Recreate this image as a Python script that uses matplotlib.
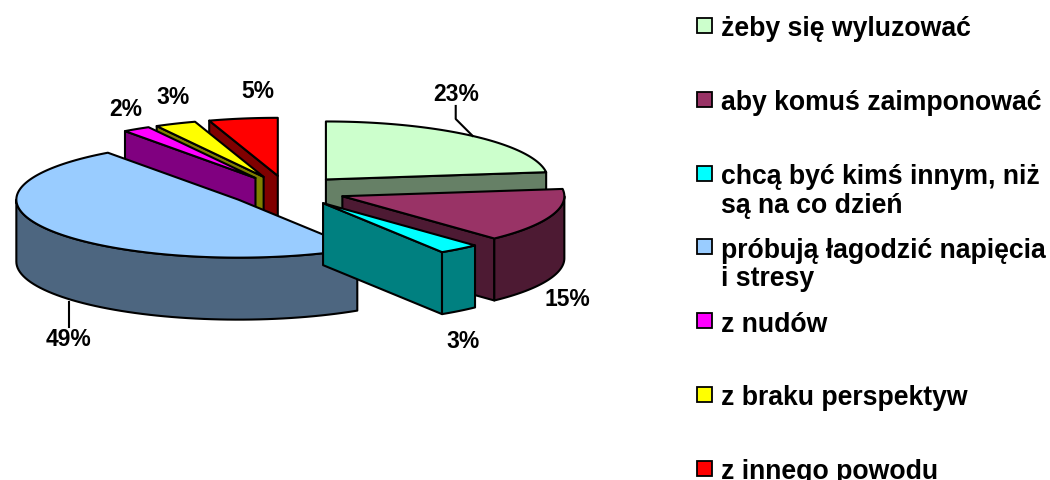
import numpy as np
import matplotlib.pyplot as plt
from matplotlib.patches import Polygon, Rectangle
from matplotlib.colors import to_rgb

# dane
labels = ['żeby się wyluzować', 'aby komuś zaimponować',
          'chcą być kimś innym, niż\nsą na co dzień',
          'próbują łagodzić napięcia\ni stresy',
          'z nudów', 'z braku perspektyw', 'z innego powodu']
values = [23, 15, 3, 49, 2, 3, 5]
colors = ['#CCFFCC', '#993366', '#00FFFF', '#99CCFF', '#FF00FF', '#FFFF00', '#FF0000']

# przesunięcia etykiet procentowych (px) i linie odniesienia
label_nudge = [(-17, -42), (16, 21), (4, 30), (14, 44), (-11, -21), (-2, -27), (15, -28)]
leader = [True, False, False, True, False, False, False]

plt.rcParams['font.family'] = ['Liberation Sans', 'DejaVu Sans']
plt.rcParams['font.weight'] = 'bold'

W, H = 1050, 481
fig = plt.figure(figsize=(W / 100, H / 100), dpi=100)
ax = fig.add_axes([0, 0, 1, 1])
ax.set_xlim(0, W)
ax.set_ylim(H, 0)
ax.axis('off')

# geometria wykresu 3D (piksele)
cx, cy = 287, 192
rx, ry = 222, 58
depth = 62
explode = 0.265
lw = 1.5


def rim(vx, vy, ang, dz=0.0):
    a = np.radians(ang)
    return vx + rx * np.sin(a), vy - ry * np.cos(a) + dz


def shade(c, f=0.5):
    r, g, b = to_rgb(c)
    return (r * f, g * f, b * f)


vals = np.array(values, dtype=float)
bounds = np.concatenate([[0], np.cumsum(vals) / vals.sum() * 360])

slices = []
for i in range(len(vals)):
    a, b = bounds[i], bounds[i + 1]
    m = (a + b) / 2
    vx = cx + explode * rx * np.sin(np.radians(m))
    vy = cy - explode * ry * np.cos(np.radians(m))
    slices.append((i, a, b, m, vx, vy))

# od tyłu do przodu
order = sorted(slices, key=lambda s: -np.cos(np.radians(s[3])))

for i, a, b, m, vx, vy in order:
    col = colors[i]
    side = shade(col)
    # ściany boczne (cięcia)
    for ang, normal in ((a, a - 90), (b, b + 90)):
        if np.cos(np.radians(normal)) < -1e-6:
            p1 = rim(vx, vy, ang)
            p2 = rim(vx, vy, ang, depth)
            quad = [(vx, vy), p1, p2, (vx, vy + depth)]
            ax.add_patch(Polygon(quad, closed=True, fc=side, ec='black', lw=lw, joinstyle='round'))
    # zewnętrzna krawędź (przód)
    lo, hi = max(a, 90), min(b, 270)
    if hi > lo:
        t = np.linspace(lo, hi, 60)
        top = [rim(vx, vy, x) for x in t]
        bot = [rim(vx, vy, x, depth) for x in t[::-1]]
        ax.add_patch(Polygon(top + bot, closed=True, fc=side, ec='black', lw=lw, joinstyle='round'))
    # górna powierzchnia
    t = np.linspace(a, b, max(int(b - a), 2) + 1)
    face = [(vx, vy)] + [rim(vx, vy, x) for x in t]
    ax.add_patch(Polygon(face, closed=True, fc=col, ec='black', lw=lw, joinstyle='round'))

# etykiety procentowe
for i, a, b, m, vx, vy in slices:
    front = np.cos(np.radians(m)) < 0
    axx, ayy = rim(vx, vy, m, depth if front else 0)
    lx, ly = axx + label_nudge[i][0], ayy + label_nudge[i][1]
    ax.text(lx, ly, f'{values[i]}%', ha='center', va='center', fontsize=16.5,
            fontweight='bold', color='black')
    if leader[i]:
        if front:
            ax.plot([lx, lx], [ly - 11, ayy + 8], color='black', lw=1.5)
        else:
            ax.plot([lx, lx, axx], [ly + 12, ly + 25, ayy], color='black', lw=1.5)

# legenda
leg_x, leg_y0, leg_step, line_h = 697, 27, 73.8, 28.5
for i, lab in enumerate(labels):
    yc = leg_y0 + i * leg_step
    ax.add_patch(Rectangle((leg_x, yc - 8), 15, 15, fc=colors[i], ec='black', lw=1.3))
    for j, line in enumerate(lab.split('\n')):
        ax.text(leg_x + 24, yc + 9.5 + j * line_h, line, ha='left', va='baseline',
                fontsize=19.2, fontweight='bold', color='black')

fig.savefig('out.png', dpi=100)
